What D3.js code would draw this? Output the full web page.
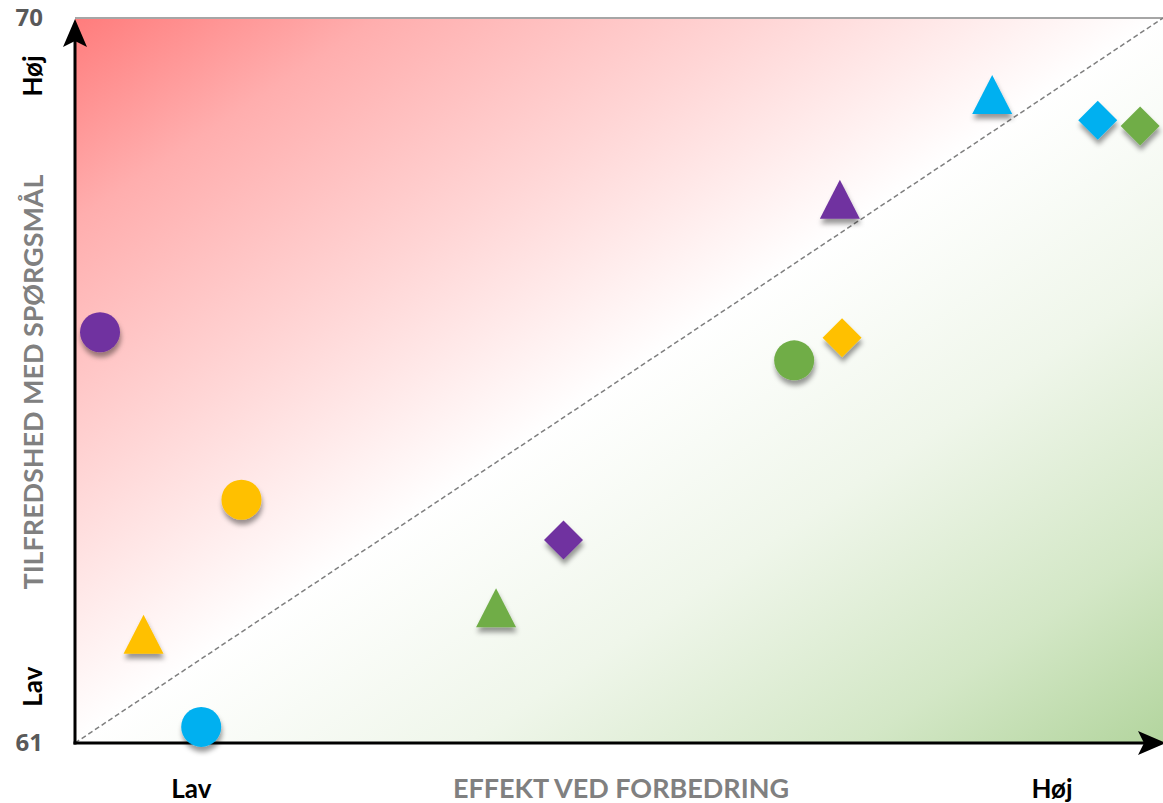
<!DOCTYPE html>
<html>
<head>
<meta charset="utf-8">
<script src="https://cdn.jsdelivr.net/npm/d3@7"></script>
<style>
  body { margin: 0; background: #fff; }
  svg { display: block; font-family: Lato, "Open Sans", sans-serif; }
</style>
</head>
<body>
<div id="chart"></div>
<script>
// data
var effekt      = [2.3, 15.3, 6.3, 11.6, 38.7, 44.9, 66.1, 70.5, 70.3, 84.3, 94.0, 97.9];
var tilfredshed = [66.1, 64.02, 62.35, 61.2, 62.68, 63.52, 65.75, 66.03, 67.75, 69.05, 68.73, 68.66];
var gruppe      = ["G1", "G2", "G2", "G3", "G4", "G1", "G4", "G2", "G1", "G3", "G3", "G4"];
var type        = ["T1", "T1", "T2", "T1", "T2", "T3", "T1", "T3", "T2", "T2", "T3", "T3"];
var gruppeNavne = ["G1", "G2", "G3", "G4"];
var yTicks      = [61, 70];
var niveau      = ["Lav", "Høj"];

var W = 1163, H = 803;
var margin = {top: 18, right: 0, bottom: 60, left: 75},
    width = W - margin.left - margin.right,
    height = H - margin.top - margin.bottom;

var svg = d3.select("#chart").append("svg")
  .attr("width", W)
  .attr("height", H);

var defs = svg.append("defs");
var grad = defs.append("linearGradient")
  .attr("id", "bg")
  .attr("x1", 0).attr("y1", 0).attr("x2", 1).attr("y2", 1);
grad.append("stop").attr("offset", "0%").attr("stop-color", "#ff7c7c");
grad.append("stop").attr("offset", "14%").attr("stop-color", "#ffaeae");
grad.append("stop").attr("offset", "32%").attr("stop-color", "#ffd6d6");
grad.append("stop").attr("offset", "50%").attr("stop-color", "#ffffff");
grad.append("stop").attr("offset", "68%").attr("stop-color", "#eff6ea");
grad.append("stop").attr("offset", "86%").attr("stop-color", "#d3e7c6");
grad.append("stop").attr("offset", "100%").attr("stop-color", "#b3d59e");

var shadow = defs.append("filter").attr("id", "shadow")
  .attr("x", "-50%").attr("y", "-50%").attr("width", "200%").attr("height", "200%");
shadow.append("feDropShadow")
  .attr("dx", 1).attr("dy", 5).attr("stdDeviation", 2.5)
  .attr("flood-color", "#000").attr("flood-opacity", 0.4);

var g = svg.append("g")
  .attr("transform", "translate(" + margin.left + "," + margin.top + ")");

// scales
var x = d3.scaleLinear().domain([0, 100]).range([0, width]);
var y = d3.scaleLinear().domain([61, 70]).range([height, 0]);
var color = d3.scaleOrdinal().domain(gruppeNavne)
  .range(["#7030a0", "#ffc000", "#00b0f0", "#70ad47"]);

// background
g.append("rect")
  .attr("x", 0).attr("y", 0)
  .attr("width", width).attr("height", height)
  .style("fill", "url(#bg)");

// top border
g.append("line")
  .attr("x1", 0).attr("x2", width)
  .attr("y1", 0).attr("y2", 0)
  .style("stroke", "#a6a6a6")
  .style("stroke-width", 2);

// diagonal
g.append("line")
  .attr("x1", x(0)).attr("y1", y(61))
  .attr("x2", x(100)).attr("y2", y(70))
  .style("stroke", "#7f7f7f")
  .style("stroke-width", 1.5)
  .style("stroke-dasharray", "5,3");

// y tick labels
g.selectAll(".ytick")
  .data(yTicks)
  .enter()
  .append("text")
    .attr("class", "ytick")
    .attr("x", -32)
    .attr("y", function(d) { return y(d); })
    .attr("dy", "0.35em")
    .attr("text-anchor", "end")
    .style("font-family", "'Open Sans', sans-serif")
    .style("font-size", "24px").style("font-weight", "bold").style("fill", "#595959")
    .text(function(d) { return d; });

// axis lines with arrows
function arrow(sel, cx, cy, angle) {
  sel.append("path")
    .attr("d", "M0,0 L-12,28 L0,22 L12,28 Z")
    .attr("transform", "translate(" + cx + "," + cy + ") rotate(" + angle + ")")
    .style("fill", "#000");
}
g.append("line")
  .attr("x1", 0).attr("x2", 0)
  .attr("y1", height + 1.5).attr("y2", 18)
  .style("stroke", "#000").style("stroke-width", 3);
arrow(g, 0, 1, 0);
g.append("line")
  .attr("x1", -1.5).attr("x2", width - 15)
  .attr("y1", height).attr("y2", height)
  .style("stroke", "#000").style("stroke-width", 3);
arrow(g, width + 3, height, 90);

// markers
function shape(t) {
  if (t === "T1") return "M-20,0 A20,20 0 1,0 20,0 A20,20 0 1,0 -20,0 Z";
  if (t === "T2") return "M0,-19.5 L20,19.5 L-20,19.5 Z";
  return "M0,-19.5 L19.5,0 L0,19.5 L-19.5,0 Z";
}

var pts = effekt.map(function(d, i) {
  return {x: d, y: tilfredshed[i], gruppe: gruppe[i], type: type[i]};
});

g.selectAll(".pt")
  .data(pts)
  .enter()
  .append("path")
    .attr("class", "pt")
    .attr("d", function(d) { return shape(d.type); })
    .attr("transform", function(d) { return "translate(" + x(d.x) + "," + y(d.y) + ")"; })
    .style("fill", function(d) { return color(d.gruppe); })
    .attr("filter", "url(#shadow)");

// level labels
g.append("text")
  .attr("transform", "translate(" + (-42) + "," + y(61.7) + ") rotate(-90)")
  .attr("text-anchor", "middle").attr("dy", "0.35em")
  .style("font-size", "26px").style("font-weight", "bold").style("fill", "#000")
  .text(niveau[0]);
g.append("text")
  .attr("transform", "translate(" + (-42) + "," + y(69.28) + ") rotate(-90)")
  .attr("text-anchor", "middle").attr("dy", "0.35em")
  .style("font-size", "26px").style("font-weight", "bold").style("fill", "#000")
  .text(niveau[1]);

g.append("text")
  .attr("x", x(10.7)).attr("y", height + 55)
  .attr("text-anchor", "middle")
  .style("font-size", "26px").style("font-weight", "bold").style("fill", "#000")
  .text(niveau[0]);
g.append("text")
  .attr("x", x(89.8)).attr("y", height + 55)
  .attr("text-anchor", "middle")
  .style("font-size", "26px").style("font-weight", "bold").style("fill", "#000")
  .text(niveau[1]);

// axis titles
g.append("text")
  .attr("x", 546).attr("y", height + 55)
  .attr("text-anchor", "middle")
  .attr("textLength", 336).attr("lengthAdjust", "spacingAndGlyphs")
  .style("font-size", "26px").style("font-weight", "bold").style("fill", "#808080")
  .text("EFFEKT VED FORBEDRING");

g.append("text")
  .attr("transform", "translate(" + (-41) + "," + 364 + ") rotate(-90)")
  .attr("text-anchor", "middle").attr("dy", "0.35em")
  .attr("textLength", 415).attr("lengthAdjust", "spacingAndGlyphs")
  .style("font-size", "27px").style("font-weight", "bold").style("fill", "#808080")
  .text("TILFREDSHED MED SPØRGSMÅL");
</script>
</body>
</html>
